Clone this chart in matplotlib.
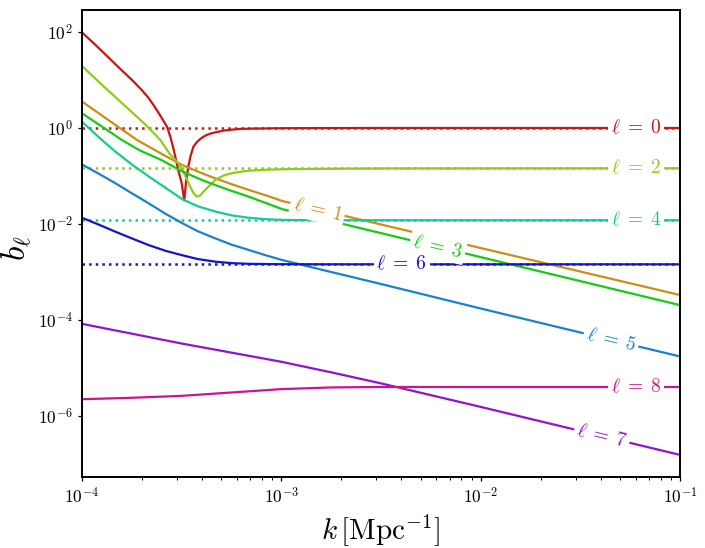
import numpy as np
import matplotlib
matplotlib.use('Agg')
import matplotlib.pyplot as plt
from matplotlib.ticker import NullLocator

plt.rcParams['mathtext.fontset'] = 'cm'
plt.rcParams['font.family'] = 'serif'
plt.rcParams['font.serif'] = ['cmr10', 'DejaVu Serif']
plt.rcParams['axes.formatter.use_mathtext'] = True
plt.rcParams['axes.unicode_minus'] = False

# values, as log10(k) and log10(b_l)
logk0 = [-4.0, -3.95, -3.9, -3.85, -3.8, -3.749, -3.7, -3.665, -3.64, -3.615, -3.59, -3.574,
         -3.557, -3.54, -3.517, -3.5, -3.487, -3.478, -3.467, -3.455, -3.441, -3.425, -3.41,
         -3.39, -3.374, -3.35, -3.33, -3.291, -3.25, -3.207, -3.15, -3.1, -3.0, -2.8, -2.5, -1.0]
logb0 = [1.99, 1.80, 1.6, 1.40, 1.2, 1.0, 0.79, 0.62, 0.47, 0.31, 0.14, 0.03,
         -0.18, -0.45, -0.875, -1.15, -1.51, -1.12, -0.81, -0.58, -0.39, -0.3, -0.24,
         -0.18, -0.146, -0.11, -0.09, -0.056, -0.035, -0.02, -0.013, -0.01, -0.005, -0.002, 0.0, 0.0]

logk1 = [-4.0, -3.9, -3.8, -3.724, -3.6, -3.498, -3.4, -3.331, -3.25, -3.164, -3.08, -2.996,
         -2.8, -2.5, -2.0, -1.5, -1.0]
logb1 = [0.55, 0.26, -0.03, -0.25, -0.54, -0.77, -0.94, -1.05, -1.17, -1.29, -1.40, -1.52,
         -1.715, -2.01, -2.5, -2.99, -3.48]

logk2 = [-4.0, -3.9, -3.8, -3.7, -3.665, -3.607, -3.558, -3.515, -3.485, -3.46, -3.44, -3.423,
         -3.405, -3.39, -3.36, -3.331, -3.29, -3.247, -3.2, -3.164, -3.08, -2.996, -2.8, -2.5, -1.0]
logb2 = [1.29, 0.9, 0.52, 0.14, 0.0, -0.25, -0.55, -0.74, -0.97, -1.2, -1.36, -1.43,
         -1.4, -1.32, -1.2, -1.08, -0.99, -0.94, -0.91, -0.89, -0.87, -0.86, -0.85, -0.843, -0.84]

logk3 = [-4.0, -3.9, -3.8, -3.709, -3.6, -3.5, -3.4, -3.331, -3.25, -3.164, -3.08, -2.996,
         -2.8, -2.5, -2.0, -1.5, -1.0]
logb3 = [0.306, 0.03, -0.25, -0.47, -0.67, -0.9, -1.08, -1.19, -1.31, -1.43, -1.56, -1.69,
         -1.89, -2.19, -2.69, -3.19, -3.69]

logk4 = [-4.0, -3.9, -3.833, -3.75, -3.665, -3.58, -3.498, -3.42, -3.331, -3.25, -3.164, -3.08,
         -2.996, -2.8, -2.5, -1.0]
logb4 = [0.13, -0.25, -0.49, -0.76, -1.01, -1.25, -1.48, -1.63, -1.74, -1.82, -1.87, -1.9,
         -1.915, -1.922, -1.923, -1.923]

logk5 = [-4.0, -3.9, -3.833, -3.75, -3.665, -3.58, -3.498, -3.42, -3.331, -3.25, -3.164, -3.08,
         -2.996, -2.8, -2.5, -2.0, -1.5, -1.0]
logb5 = [-0.76, -0.99, -1.15, -1.36, -1.57, -1.79, -1.98, -2.15, -2.30, -2.43, -2.54, -2.65,
         -2.75, -2.95, -3.25, -3.76, -4.26, -4.76]

logk6 = [-4.0, -3.9, -3.833, -3.75, -3.665, -3.58, -3.498, -3.42, -3.331, -3.25, -3.164, -3.0,
         -2.8, -2.5, -1.0]
logb6 = [-1.87, -2.04, -2.16, -2.3, -2.44, -2.56, -2.65, -2.73, -2.785, -2.815, -2.83, -2.838,
         -2.84, -2.84, -2.84]

logk7 = [-4.0, -3.75, -3.5, -3.25, -3.0, -2.75, -2.5, -2.0, -1.5, -1.0]
logb7 = [-4.08, -4.285, -4.49, -4.68, -4.87, -5.09, -5.32, -5.81, -6.31, -6.81]

logk8 = [-4.0, -3.75, -3.5, -3.25, -3.0, -2.75, -2.5, -2.0, -1.0]
logb8 = [-5.65, -5.62, -5.58, -5.51, -5.44, -5.405, -5.395, -5.395, -5.395]

ells = [0, 1, 2, 3, 4, 5, 6, 7, 8]
logks = [logk0, logk1, logk2, logk3, logk4, logk5, logk6, logk7, logk8]
logbs = [logb0, logb1, logb2, logb3, logb4, logb5, logb6, logb7, logb8]

# large-scale limits of the even multipoles (dotted)
dotted_ells = [0, 2, 4, 6]
dotted_logb = [0.0, -0.84, -1.923, -2.84]

# where the inline labels sit (log10 k)
label_logk = [-1.22, -2.818, -1.22, -2.216, -1.22, -1.346, -2.396, -1.392, -1.22]

colors = ['#cc1414', '#cc8f14', '#8fcc14', '#14cc14', '#14cc8f',
          '#1a82cc', '#1414cc', '#8f14cc', '#cc148f']

fig = plt.figure(figsize=(7.05, 5.48), dpi=100)
ax = fig.add_axes([0.1163, 0.1296, 0.8482, 0.8513])

for ell, lb in zip(dotted_ells, dotted_logb):
    ax.plot([1e-4, 1e-1], [10**lb, 10**lb], ls=':', lw=1.8, color=colors[ell], zorder=1)

for ell, lk, lb in zip(ells, logks, logbs):
    ax.plot(10**np.array(lk), 10**np.array(lb), lw=1.6, color=colors[ell], zorder=2)

ax.set_xscale('log')
ax.set_yscale('log')
ax.set_xlim(1e-4, 1e-1)
ax.set_ylim(10**-7.27, 10**2.448)
ax.set_yticks([1e-6, 1e-4, 1e-2, 1e0, 1e2])
ax.yaxis.set_minor_locator(NullLocator())

ax.tick_params(which='major', length=3, width=0.9, labelsize=12.5)
ax.tick_params(which='minor', length=1.8, width=0.7)
for sp in ax.spines.values():
    sp.set_linewidth(1.4)

ax.set_xlabel(r'$k\,[\mathrm{Mpc}^{-1}]$', fontsize=21, labelpad=4)
ax.set_ylabel(r'$b_\ell$', fontsize=24)
ax.yaxis.set_label_coords(-0.08, 0.49)

# inline labels, rotated along the curve, with a white box cutting the lines
for ell, lk, lb, xl in zip(ells, logks, logbs, label_logk):
    yl = np.interp(xl, lk, lb)
    ya = np.interp(xl - 0.05, lk, lb)
    yb = np.interp(xl + 0.05, lk, lb)
    p1 = ax.transData.transform((10**(xl - 0.05), 10**ya))
    p2 = ax.transData.transform((10**(xl + 0.05), 10**yb))
    ang = np.degrees(np.arctan2(p2[1] - p1[1], p2[0] - p1[0]))
    ax.text(10**xl, 10**yl, r'$\ell\;=\;%d$' % ell, color=colors[ell], fontsize=14,
            rotation=ang, rotation_mode='anchor', ha='center', va='center', zorder=5,
            bbox=dict(boxstyle='square,pad=0.15', facecolor='white', edgecolor='none'))

fig.savefig('out.png', dpi=100)
